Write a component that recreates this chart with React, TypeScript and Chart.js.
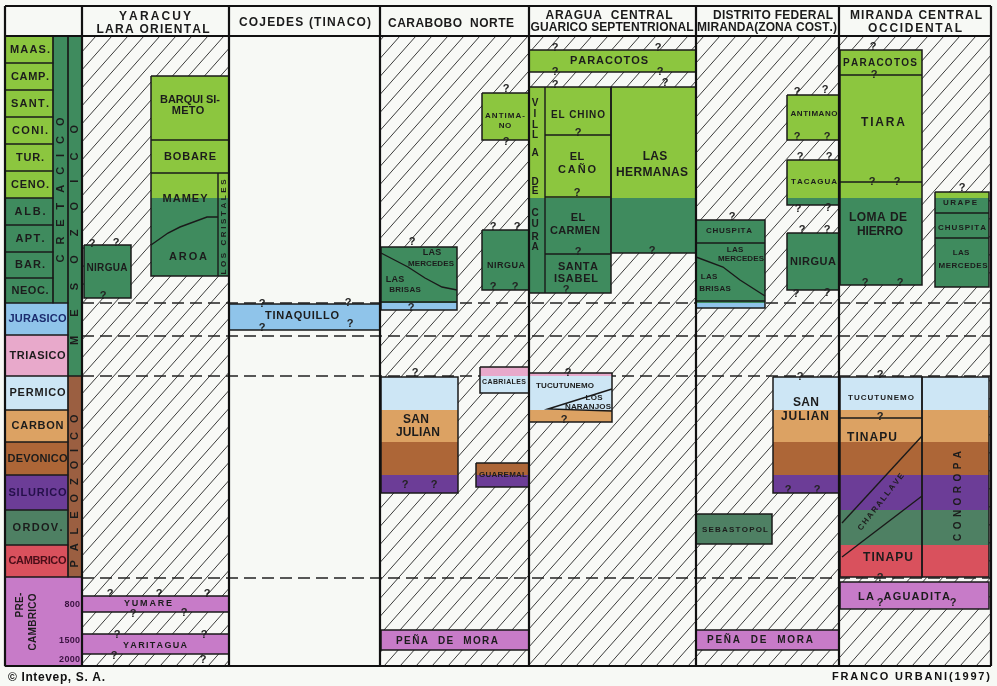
import React, { useEffect, useRef } from 'react';
import { Chart, registerables } from 'chart.js';

Chart.register(...registerables);

type Pt = [number, number];
type Align = 'left' | 'center' | 'right';
// [text, x, y, fontSize, width (0 = natural), rotation deg, align, color]
type Label = [string, number, number, number, number?, number?, Align?, string?];

const FONT = '"Liberation Sans", Arial, Helvetica, sans-serif';
const INK = '#1c1c1c';

// ---------- chronostratigraphic colour bands (y = stratigraphic position units) ----------
const ageBands: [string, number, number, string][] = [
  ['Cretácico superior', 36, 198, '#8cc63f'],
  ['Cretácico inferior', 198, 303, '#3f8b5e'],
  ['Jurásico', 303, 335, '#8fc4ea'],
  ['Triásico', 335, 376, '#e8a9cb'],
  ['Pérmico', 376, 410, '#cde6f5'],
  ['Carbonífero', 410, 442, '#dca263'],
  ['Devónico', 442, 475, '#ad6637'],
  ['Silúrico', 475, 510, '#6c3d97'],
  ['Ordovícico', 510, 545, '#4e8063'],
  ['Cámbrico', 545, 577, '#d9515d'],
  ['Precámbrico', 577, 666, '#c77bc8'],
];

// ---------- stage legend ----------
const stageLabels = ['MAAS.', 'CAMP.', 'SANT.', 'CONI.', 'TUR.', 'CENO.', 'ALB.', 'APT.', 'BAR.', 'NEOC.',
  'JURASICO', 'TRIASICO', 'PERMICO', 'CARBON', 'DEVONICO', 'SILURICO', 'ORDOV.', 'CAMBRICO', ''];
const stageTops = [36, 63, 90, 117, 144, 171, 198, 225, 252, 278, 303, 335, 376, 410, 442, 475, 510, 545, 577];
const stageBottoms = [63, 90, 117, 144, 171, 198, 225, 252, 278, 303, 335, 376, 410, 442, 475, 510, 545, 577, 666];
const stageRight = [53, 53, 53, 53, 53, 53, 53, 53, 53, 53, 68, 68, 68, 68, 68, 68, 68, 68, 82];
const stageLabelWidths = [40, 38, 38, 36, 28, 38, 31, 29, 30, 37, 58, 56, 56, 52, 60, 58, 50, 58, 0];
const stageLabelColors = [INK, INK, INK, INK, INK, INK, INK, INK, INK, INK,
  '#1b2b6e', INK, INK, INK, INK, '#25104a', INK, '#4a0e18', INK];

// era strips: [name, x0, x1, top, bottom, colour]
const eraStrips: [string, number, number, number, number, string][] = [
  ['CRETACICO', 53, 68, 36, 303, '#3f8b5e'],
  ['MESOZOICO', 68, 82, 36, 376, '#3f8b5e'],
  ['PALEOZOICO', 68, 82, 376, 577, '#9b5f41'],
];

// ---------- columns ----------
const columnEdges = [5, 82, 229, 380, 529, 696, 839, 991];
const hatchedColumns: [number, number][] = [[82, 229], [380, 529], [529, 696], [696, 839], [839, 991]];
const dashedLevels = [303, 336, 376, 578];

// ---------- formations: [name, x0, x1, top, bottom] ----------
const formations: [string, number, number, number, number][] = [
  ['Nirgua (Yaracuy)', 84, 131, 245, 298],
  ['Barquisimeto–Aroa', 151, 229, 76, 276],
  ['Yumare', 82, 229, 596, 612],
  ['Yaritagua', 82, 229, 634, 654],
  ['Tinaquillo', 229, 380, 304, 330],
  ['Antímano (Carabobo)', 482, 529, 93, 140],
  ['Las Mercedes–Las Brisas (Carabobo)', 381, 457, 247, 310],
  ['Nirgua (Carabobo)', 482, 529, 230, 290],
  ['San Julián (Carabobo)', 381, 458, 377, 493],
  ['Cabriales', 480, 529, 367, 393],
  ['Guaremal', 476, 529, 463, 487],
  ['Peña de Mora (Carabobo)', 381, 529, 630, 650],
  ['Paracotos (Aragua)', 529, 696, 50, 72],
  ['Grupo Villa de Cura', 529, 611, 87, 293],
  ['Las Hermanas', 611, 696, 87, 253],
  ['Tucutunemo–Los Naranjos', 529, 612, 373, 422],
  ['Antímano (DF)', 787, 839, 95, 140],
  ['Tacagua', 787, 839, 160, 205],
  ['Nirgua (DF)', 787, 839, 233, 290],
  ['Chuspita–Las Brisas (DF)', 696, 765, 220, 308],
  ['Sebastopol', 696, 772, 514, 544],
  ['San Julián (DF)', 773, 839, 377, 493],
  ['Peña de Mora (DF)', 696, 839, 630, 650],
  ['Paracotos–Tiara–Loma de Hierro', 840, 922, 50, 285],
  ['Urape–Chuspita–Las Mercedes', 935, 989, 192, 287],
  ['Tucutunemo–Tinapu–Charallave', 840, 922, 377, 577],
  ['Conoropa', 922, 989, 377, 577],
  ['La Aguadita', 840, 989, 582, 609],
];

// ---------- internal contacts ----------
const contacts: [string, Pt[]][] = [
  ['Barquisimeto/Bobare', [[151, 140], [229, 140]]],
  ['Bobare/Mamey', [[151, 173], [229, 173]]],
  ['Los Cristales', [[218, 173], [218, 276]]],
  ['Mamey/Aroa', [[151, 245], [168, 233], [180, 227], [207, 217], [218, 217]]],
  ['Las Mercedes/Las Brisas (Carabobo)', [[381, 253], [408, 267], [425, 278], [442, 287], [457, 290]]],
  ['Las Brisas base (Carabobo)', [[381, 302], [457, 302]]],
  ['Villa de Cura', [[545, 87], [545, 293]]],
  ['El Chino/El Caño', [[545, 135], [611, 135]]],
  ['El Caño/El Carmen', [[545, 197], [611, 197]]],
  ['El Carmen/Santa Isabel', [[545, 254], [611, 254]]],
  ['Los Naranjos', [[612, 389], [548, 409], [612, 411]]],
  ['Chuspita/Las Mercedes (DF)', [[696, 243], [765, 243]]],
  ['Las Mercedes/Las Brisas (DF)', [[696, 257], [723, 267], [740, 280], [765, 296]]],
  ['Las Brisas base (DF)', [[696, 301], [765, 301]]],
  ['Paracotos/Tiara', [[840, 75], [922, 75]]],
  ['Tiara/Loma de Hierro', [[840, 182], [922, 182]]],
  ['Urape/Chuspita', [[935, 213], [989, 213]]],
  ['Chuspita/Las Mercedes (Miranda)', [[935, 238], [989, 238]]],
  ['Tucutunemo/Tinapu', [[840, 418], [922, 418]]],
  ['Charallave techo', [[842, 523], [922, 436]]],
  ['Charallave base', [[842, 557], [922, 496]]],
];

// ---------- texts ----------
const headerLabels: Label[] = [
  ['YARACUY', 155, 17, 12, 72], ['LARA ORIENTAL', 153, 30, 12, 113],
  ['COJEDES (TINACO)', 305, 23, 12, 132],
  ['CARABOBO  NORTE', 451, 24, 12, 126],
  ['ARAGUA  CENTRAL', 609, 16, 12, 127], ['GUARICO SEPTENTRIONAL', 612, 28, 12, 163],
  ['DISTRITO FEDERAL', 773, 16, 12, 120], ['MIRANDA(ZONA COST.)', 767, 28, 12, 140],
  ['MIRANDA CENTRAL', 916, 16, 12, 132], ['OCCIDENTAL', 915, 29, 12, 94],
];

const legendLabels: Label[] = [
  ['CRETACICO', 60.5, 190, 11, 145, -90],
  ['MESOZOICO', 75, 235, 11, 220, -90],
  ['PALEOZOICO', 75, 491, 11, 153, -90],
  ['PRE-', 20, 605, 10, 0, -90],
  ['CAMBRICO', 33, 622, 10, 0, -90],
  ['800', 80, 605, 9, 0, 0, 'right', '#3a1240'],
  ['1500', 80, 641, 9, 0, 0, 'right', '#3a1240'],
  ['2000', 80, 660, 9, 0, 0, 'right', '#3a1240'],
];

const formationLabels: Label[] = [
  // Yaracuy – Lara oriental
  ['NIRGUA', 107, 268, 10, 41], ['BARQUI SI-', 190, 100, 11, 60], ['METO', 188, 111, 11],
  ['BOBARE', 190, 157, 11, 52], ['MAMEY', 185, 199, 11, 45], ['AROA', 188, 257, 11, 38],
  ['LOS CRISTALES', 224, 227, 8, 95, -90],
  ['YUMARE', 148, 604, 9, 48], ['YARITAGUA', 155, 646, 9, 64],
  // Cojedes
  ['TINAQUILLO', 302, 316, 11, 74],
  // Carabobo
  ['ANTIMA-', 505, 116, 8, 40], ['NO', 505, 126, 8],
  ['LAS', 432, 253, 9], ['MERCEDES', 431, 264, 8, 46], ['LAS', 395, 280, 9], ['BRISAS', 405, 290, 8],
  ['NIRGUA', 506, 266, 9, 38],
  ['SAN', 416, 420, 12], ['JULIAN', 418, 433, 12, 44],
  ['CABRIALES', 504, 382, 7, 44], ['GUAREMAL', 503, 475, 8, 48],
  ['PEÑA  DE  MORA', 447, 641, 10, 102],
  // Aragua – Guárico
  ['PARACOTOS', 609, 61, 11, 78],
  ['V', 535, 103, 10], ['I', 535, 114, 10], ['L', 535, 125, 10], ['L', 535, 135, 10], ['A', 535, 153, 10],
  ['D', 535, 182, 10], ['E', 535, 191, 10], ['C', 535, 213, 10], ['U', 535, 224, 10], ['R', 535, 237, 10], ['A', 535, 247, 10],
  ['EL CHINO', 578, 115, 10, 54], ['EL', 577, 157, 11], ['CAÑO', 577, 170, 11, 38],
  ['EL', 578, 218, 11], ['CARMEN', 575, 231, 11, 50], ['SANTA', 578, 267, 11, 40], ['ISABEL', 576, 279, 11, 44],
  ['LAS', 655, 157, 12], ['HERMANAS', 652, 173, 12, 72],
  ['TUCUTUNEMO', 565, 386, 8, 58], ['LOS', 594, 398, 8], ['NARANJOS', 588, 407, 8, 46],
  // Distrito Federal – Miranda costa
  ['ANTIMANO', 814, 114, 8, 47], ['TACAGUA', 814, 182, 8, 46], ['NIRGUA', 813, 262, 11, 46],
  ['CHUSPITA', 729, 231, 8, 46], ['LAS', 735, 250, 8], ['MERCEDES', 741, 259, 8, 46],
  ['LAS', 709, 277, 8], ['BRISAS', 715, 289, 8],
  ['SEBASTOPOL', 735, 530, 8, 66],
  ['SAN', 806, 403, 12], ['JULIAN', 805, 417, 12, 48],
  ['PEÑA  DE  MORA', 760, 640, 10, 106],
  // Miranda central – occidental
  ['PARACOTOS', 880, 63, 10, 74], ['TIARA', 883, 123, 12, 44],
  ['LOMA DE', 878, 218, 12, 58], ['HIERRO', 880, 232, 12, 46],
  ['URAPE', 960, 203, 8, 34], ['CHUSPITA', 962, 228, 8, 48], ['LAS', 961, 253, 8], ['MERCEDES', 963, 266, 8, 49],
  ['TUCUTUNEMO', 881, 398, 8, 66], ['TINAPU', 872, 438, 12, 50],
  ['CHARALLAVE', 881, 502, 8, 70, -52],
  ['TINAPU', 888, 558, 12, 50], ['CONOROPA', 958, 496, 10, 90, -90],
  ['LA  AGUADITA', 904, 597, 11, 92],
];

const questionMarks: Pt[] = [
  [92, 244], [116, 243], [103, 296], [110, 594], [159, 594], [207, 594], [133, 614], [184, 613],
  [117, 635], [204, 635], [114, 656], [203, 660],
  [262, 304], [348, 303], [262, 328], [350, 324],
  [506, 89], [506, 142], [412, 242], [493, 227], [517, 227], [493, 287], [515, 287], [411, 308],
  [415, 373], [405, 485], [434, 485], [568, 373], [564, 420],
  [555, 48], [658, 48], [555, 72], [660, 72], [555, 85], [665, 83], [578, 133], [577, 193], [578, 252], [652, 251], [566, 290],
  [797, 92], [825, 90], [797, 137], [827, 137], [800, 157], [829, 157], [798, 209], [828, 208],
  [802, 230], [827, 230], [796, 294], [827, 293], [732, 217], [800, 377], [788, 490], [817, 490],
  [873, 47], [874, 75], [872, 182], [897, 182], [865, 283], [900, 283], [962, 188],
  [880, 375], [880, 417], [880, 578], [880, 603], [953, 603],
];

const footerLabels: Label[] = [
  ['© Intevep, S. A.', 8, 678, 12, 97, 0, 'left', '#111'],
  ['FRANCO URBANI(1997)', 990, 677, 11, 158, 0, 'right', '#111'],
];

function makeHatch(): CanvasPattern | string {
  const w = 16;
  const h = 18;
  const c = document.createElement('canvas');
  c.width = w; c.height = h;
  const g = c.getContext('2d');
  if (!g) return '#f8f9f6';
  g.fillStyle = '#f8f9f6';
  g.fillRect(0, 0, w, h);
  g.strokeStyle = '#303030';
  g.lineWidth = 0.95;
  for (let k = -1; k <= 1; k++) {
    g.beginPath();
    g.moveTo(-w * 0.2 + k * w, h * 1.2);
    g.lineTo(w * 1.2 + k * w, -h * 0.2);
    g.stroke();
  }
  return g.createPattern(c, 'repeat') || '#f8f9f6';
}

function drawLabel(ctx: CanvasRenderingContext2D, text: string, px: number, py: number, size: number,
  widthPx: number, rot: number, align: Align, color: string, weight = 'bold') {
  ctx.save();
  ctx.translate(px, py);
  if (rot) ctx.rotate((rot * Math.PI) / 180);
  ctx.font = `${weight} ${size}px ${FONT}`;
  ctx.fillStyle = color;
  ctx.textBaseline = 'middle';
  ctx.textAlign = 'left';
  const chars = Array.from(text);
  const ws = chars.map((c) => ctx.measureText(c).width);
  const natural = ws.reduce((a, b) => a + b, 0);
  let gap = 0.3;
  let sx = 1;
  let total = natural + gap * (chars.length - 1);
  if (widthPx && chars.length > 1) {
    gap = (widthPx - natural) / (chars.length - 1);
    total = widthPx;
    if (gap < -0.4) { gap = 0; sx = widthPx / natural; }
  }
  const start = align === 'left' ? 0 : align === 'right' ? -total : -total / 2;
  ctx.translate(start, 0);
  ctx.scale(sx, 1);
  let cx = 0;
  chars.forEach((c, i) => { ctx.fillText(c, cx, 0); cx += ws[i] + gap; });
  ctx.restore();
}

export default function App() {
  const ref = useRef<HTMLCanvasElement | null>(null);

  useEffect(() => {
    document.body.style.margin = '0';
    const canvas = ref.current;
    if (!canvas) return;
    const hatch = makeHatch();
    const datasets: any[] = [];
    const add = (d: any) => { d.order = -datasets.length; datasets.push(d); };
    const area = (x0: number, x1: number, top: number, bottom: number, color: any) => add({
      data: [{ x: x0, y: bottom }, { x: x1, y: bottom }],
      fill: { value: top }, backgroundColor: color, borderColor: 'rgba(0,0,0,0)', borderWidth: 0,
      pointRadius: 0, clip: false,
    });
    const line = (pts: Pt[], color: string, width: number, dash: number[] = []) => add({
      data: pts.map(([x, y]) => ({ x, y })), fill: false, borderColor: color, borderWidth: width,
      borderDash: dash, pointRadius: 0, clip: false, tension: 0,
    });
    const box = (x0: number, x1: number, t: number, b: number): Pt[] => [[x0, t], [x1, t], [x1, b], [x0, b], [x0, t]];
    const bandColor = (y: number) => (ageBands.find(([, t, b]) => y >= t && y < b) || ageBands[ageBands.length - 1])[3];

    // hatched background of columns
    hatchedColumns.forEach(([x0, x1]) => area(x0, x1, 36, 666, hatch));
    // dashed time lines
    dashedLevels.forEach((y) => line([[82, y], [991, y]], '#222', 1.5, [12, 6]));
    // legend fills
    stageTops.forEach((t, i) => area(5, stageRight[i], t, stageBottoms[i], bandColor((t + stageBottoms[i]) / 2)));
    eraStrips.forEach(([, x0, x1, t, b, c]) => area(x0, x1, t, b, c));
    // formation fills split by age band
    formations.forEach(([, x0, x1, top, bottom]) => {
      ageBands.forEach(([, bt, bb, c]) => {
        const t = Math.max(top, bt);
        const b = Math.min(bottom, bb);
        if (b > t) area(x0, x1, t, b, c);
      });
    });
    // outlines
    stageTops.forEach((t, i) => line(box(5, stageRight[i], t, stageBottoms[i]), '#1a1a1a', 1.2));
    eraStrips.forEach(([, x0, x1, t, b]) => line(box(x0, x1, t, b), '#1a1a1a', 1.2));
    formations.forEach(([, x0, x1, t, b]) => line(box(x0, x1, t, b), '#1a1a1a', 1.5));
    contacts.forEach(([, pts]) => line(pts, '#1a1a1a', 1.4));
    // frame
    [6, 36, 666].forEach((y) => line([[5, y], [991, y]], '#111', 2.2));
    columnEdges.forEach((x) => line([[x, 6], [x, 666]], '#111', 2.2));

    const bgPlugin = {
      id: 'paper',
      beforeDraw(chart: any) {
        const c = chart.ctx;
        c.save();
        c.fillStyle = '#f7f9f5';
        c.fillRect(0, 0, chart.width, chart.height);
        c.restore();
      },
    };

    const textPlugin = {
      id: 'strataText',
      afterDatasetsDraw(chart: any) {
        const c = chart.ctx as CanvasRenderingContext2D;
        const xs = chart.scales.x;
        const ys = chart.scales.y;
        const px = (v: number) => xs.getPixelForValue(v);
        const py = (v: number) => ys.getPixelForValue(v);
        const draw = (l: Label, weight = 'bold', defColor = INK) => {
          const [text, x, y, size, width = 0, rot = 0, align = 'center', color = defColor] = l;
          const wpx = width ? Math.abs(px(x + width) - px(x)) : 0;
          drawLabel(c, text, px(x), py(y), size, wpx, rot, align as Align, color, weight);
        };
        headerLabels.forEach((l) => draw(l, 'bold', '#1a1a1a'));
        stageLabels.forEach((s, i) => {
          if (!s) return;
          const mid = (stageTops[i] + stageBottoms[i]) / 2;
          draw([s, (5 + stageRight[i]) / 2 + 1, mid, 11, stageLabelWidths[i], 0, 'center', stageLabelColors[i]]);
        });
        legendLabels.forEach((l) => draw(l));
        formationLabels.forEach((l) => draw(l));
        questionMarks.forEach(([x, y]) => draw(['?', x, y, 11], 'bold', '#222'));
        footerLabels.forEach((l) => draw(l));
      },
    };

    const chart = new Chart(canvas, {
      type: 'line',
      data: { datasets },
      options: {
        animation: false,
        responsive: false,
        devicePixelRatio: 1,
        events: [],
        layout: { padding: { left: 3, top: 5, right: 5, bottom: 20 } },
        scales: {
          x: { type: 'linear', min: 3, max: 992, display: false },
          y: { type: 'linear', min: 5, max: 666, reverse: true, display: false },
        },
        plugins: { legend: { display: false }, tooltip: { enabled: false }, title: { display: false } },
        elements: { point: { radius: 0 }, line: { tension: 0 } },
      } as any,
      plugins: [bgPlugin, textPlugin],
    });
    return () => chart.destroy();
  }, []);

  return (
    <div style={{ position: 'absolute', left: 0, top: 0, width: 997, height: 686 }}>
      <canvas ref={ref} width={997} height={686} style={{ display: 'block' }} />
    </div>
  );
}
